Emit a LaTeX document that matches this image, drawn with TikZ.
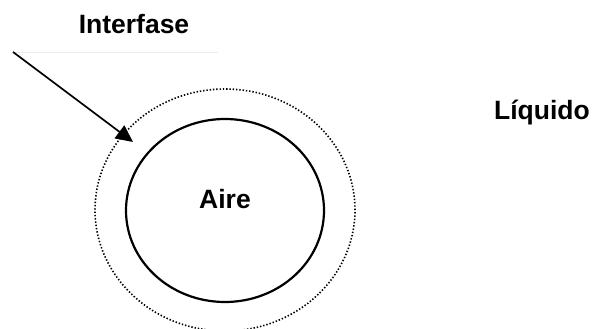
\documentclass[tikz,border=0pt]{standalone}
\usepackage{fontspec}
\setmainfont{Liberation Sans}
\usetikzlibrary{arrows.meta,shapes.geometric}
\begin{document}
\begin{tikzpicture}[x=1pt,y=-1pt,
  label/.style={font=\fontsize{26.5}{30}\selectfont\bfseries, inner sep=0pt, anchor=center},
  bubble/.style={ellipse, draw, line width=2.2pt, inner sep=0pt},
  interface/.style={ellipse, draw, line width=1.6pt, dash pattern=on 1.4pt off 1.9pt, inner sep=0pt},
  pointer/.style={line width=1.7pt, -{Triangle[length=17pt,width=16pt]}}]
  \useasboundingbox (0,0) rectangle (592,329);
  % air bubble and the surrounding interface layer
  \node[interface, minimum width=260pt, minimum height=242pt] (outer) at (225,210) {};
  \node[bubble, minimum width=198pt, minimum height=183pt] (inner) at (225,210.5) {};
  % labels
  \node[label] (interfase) at (134,24) {Interfase};
  \node[label] (aire) at (225,199) {Aire};
  \node[label] (liquido) at (542,113) {Líquido};
  % faint rule under the heading
  \coordinate (ruleA) at (13,52);
  \coordinate (ruleB) at (218,52);
  \draw[gray!15, line width=0.8pt] (ruleA) -- (ruleB);
  % arrow pointing at the interface
  \coordinate (tip) at (133,142);
  \draw[pointer] (ruleA) -- (tip);
\end{tikzpicture}
\end{document}
